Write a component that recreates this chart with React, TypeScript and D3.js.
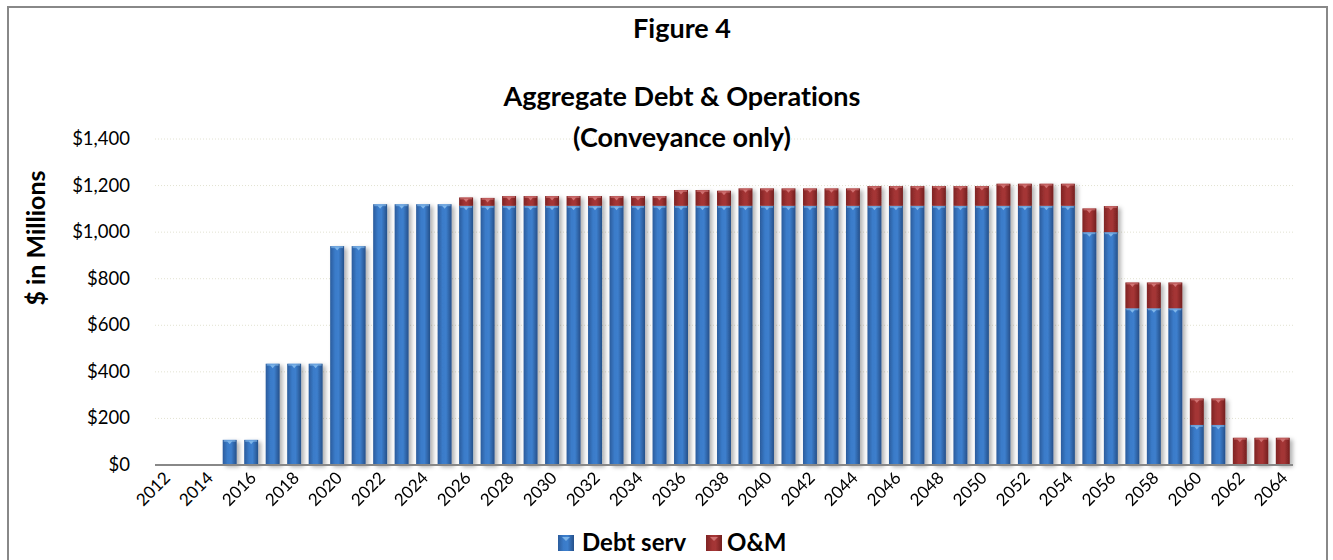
import React from "react";
import * as d3 from "d3";

const years: string[] = [
  "2012","2013","2014","2015","2016","2017","2018","2019","2020","2021",
  "2022","2023","2024","2025","2026","2027","2028","2029","2030","2031",
  "2032","2033","2034","2035","2036","2037","2038","2039","2040","2041",
  "2042","2043","2044","2045","2046","2047","2048","2049","2050","2051",
  "2052","2053","2054","2055","2056","2057","2058","2059","2060","2061",
  "2062","2063","2064",
];

const debtServ: number[] = [
  0, 0, 0, 108, 108, 435, 435, 435, 940, 940,
  1120, 1120, 1120, 1120, 1113, 1113, 1113, 1113, 1113, 1113,
  1113, 1113, 1113, 1113, 1113, 1113, 1113, 1113, 1113, 1113,
  1113, 1113, 1113, 1113, 1113, 1113, 1113, 1113, 1113, 1113,
  1113, 1113, 1113, 1000, 1000, 673, 673, 673, 172, 172,
  0, 0, 0,
];

const om: number[] = [
  0, 0, 0, 0, 0, 0, 0, 0, 0, 0,
  0, 0, 0, 0, 36, 34, 42, 42, 42, 42,
  42, 42, 42, 42, 68, 68, 65, 75, 75, 75,
  75, 75, 75, 85, 85, 85, 85, 85, 85, 95,
  95, 95, 95, 102, 112, 111, 111, 111, 114, 114,
  117, 117, 117,
];

const yTicks: number[] = [0, 200, 400, 600, 800, 1000, 1200, 1400];
const seriesNames = ["Debt serv", "O&M"];

const FONT = "Lato, 'Open Sans', sans-serif";
const noLig = { fontVariantLigatures: "none" as const };

export default function App() {
  const W = 1333;
  const H = 560;
  const left = 155;
  const right = 1293;
  const top = 139;
  const bottom = 465;

  const x = d3.scaleBand<string>().domain(years).range([left, right]).paddingInner(0.35).paddingOuter(0.15);
  const y = d3.scaleLinear().domain([0, 1400]).range([bottom, top]);

  const rows = years.map((yr, i) => ({ year: yr, debt: debtServ[i], om: om[i] }));
  const stack = d3.stack<any>().keys(["debt", "om"]);
  const series = stack(rows);
  const grads = ["gBlue", "gRed"];
  const capCol = ["#8fc3f0", "#d98080"];

  const yFmt = (v: number) => "$" + d3.format(",")(v);

  return (
    <svg width={W} height={H} style={{ position: "absolute", left: 0, top: 0 }}>
      <defs>
        <linearGradient id="gBlue" x1="0" x2="1" y1="0" y2="0">
          <stop offset="0" stopColor="#2b5c9c" />
          <stop offset="0.35" stopColor="#3a7bc9" />
          <stop offset="0.6" stopColor="#3d7fcd" />
          <stop offset="1" stopColor="#25508a" />
        </linearGradient>
        <linearGradient id="gRed" x1="0" x2="1" y1="0" y2="0">
          <stop offset="0" stopColor="#7f2424" />
          <stop offset="0.4" stopColor="#a33434" />
          <stop offset="0.6" stopColor="#a53636" />
          <stop offset="1" stopColor="#731f1f" />
        </linearGradient>
        <filter id="shadow" x="-30%" y="-10%" width="180%" height="130%">
          <feDropShadow dx="3" dy="2" stdDeviation="2" floodColor="#000" floodOpacity="0.3" />
        </filter>
      </defs>

      <rect x={8} y={7} width={1319} height={570} fill="#fff" stroke="#888" strokeWidth={2} />

      {/* gridlines */}
      {yTicks.filter((t) => t > 0).map((t) => (
        <line key={t} x1={left} x2={right} y1={y(t)} y2={y(t)} stroke="#e2e2d2" strokeWidth={1} strokeDasharray="1,2" />
      ))}

      {/* titles */}
      <text x={682} y={38} textAnchor="middle" fontFamily={FONT} fontWeight="bold" fontSize={27} fill="#000" style={noLig}>Figure 4</text>
      <text x={682} y={106} textAnchor="middle" fontFamily={FONT} fontWeight="bold" fontSize={27} fill="#000" style={noLig}>Aggregate Debt &amp; Operations</text>
      <text x={682} y={147} textAnchor="middle" fontFamily={FONT} fontWeight="bold" fontSize={27} fill="#000" style={noLig}>(Conveyance only)</text>

      {/* y axis labels */}
      {yTicks.map((t) => (
        <text key={t} x={130} y={y(t) + 6} textAnchor="end" fontFamily={FONT} fontSize={18.5} fill="#000">{yFmt(t)}</text>
      ))}
      <text transform={`translate(45,${238}) rotate(-90)`} textAnchor="middle" fontFamily={FONT} fontWeight="bold" fontSize={25} fill="#000" style={noLig}>$ in Millions</text>

      {/* bars */}
      <g filter="url(#shadow)">
        {series.map((s, si) =>
          s.map((d: any, i: number) => {
            const v = d[1] - d[0];
            if (v <= 0) return null;
            const bx = x(d.data.year)!;
            const bw = x.bandwidth();
            const y0 = y(d[0]);
            const y1 = y(d[1]);
            return (
              <g key={`${si}-${i}`}>
                <rect x={bx} y={y1} width={bw} height={y0 - y1} fill={`url(#${grads[si]})`} />
                <rect x={bx + 1} y={y1} width={bw - 2} height={2} fill={capCol[si]} opacity={0.55} />
                <path d={`M${bx + bw / 2 - 2.5},${y1 + 1.5} L${bx + bw / 2 + 2.5},${y1 + 1.5} L${bx + bw / 2},${y1 + 4.5} Z`} fill={capCol[si]} opacity={0.8} />
              </g>
            );
          })
        )}
      </g>

      {/* x axis */}
      <line x1={left} x2={right} y1={bottom} y2={bottom} stroke="#888" strokeWidth={2} />
      {years.filter((_, i) => i % 2 === 0).map((yr) => {
        const cx = x(yr)! + x.bandwidth() / 2;
        return (
          <text key={yr} transform={`translate(${cx + 6},${bottom + 14}) rotate(-45)`} textAnchor="end" fontFamily={FONT} fontSize={17} fill="#000">{yr}</text>
        );
      })}

      {/* legend */}
      <g>
        <rect x={558} y={535} width={16} height={16} fill="url(#gBlue)" />
        <path d="M562,537 L570,537 L566,541 Z" fill="#8fc3f0" opacity={0.8} />
        <text x={582} y={551} fontFamily={FONT} fontWeight="bold" fontSize={24} fill="#000">{seriesNames[0]}</text>
        <rect x={706} y={535} width={16} height={16} fill="url(#gRed)" />
        <path d="M710,537 L718,537 L714,541 Z" fill="#d98080" opacity={0.8} />
        <text x={727} y={551} fontFamily={FONT} fontWeight="bold" fontSize={24} fill="#000">{seriesNames[1]}</text>
      </g>
    </svg>
  );
}
